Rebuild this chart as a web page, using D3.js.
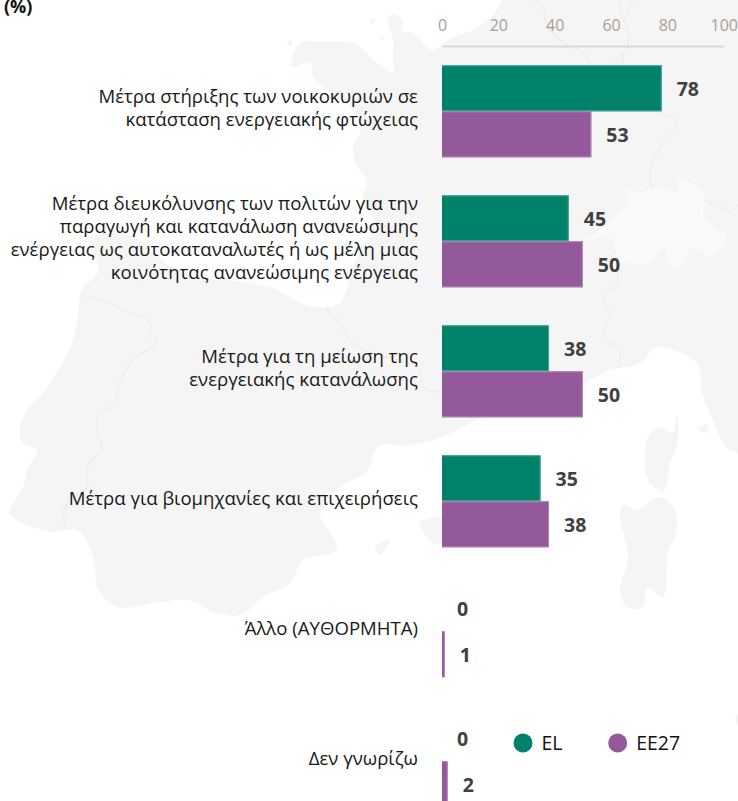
<!DOCTYPE html>
<html><head><meta charset="utf-8">
<script src="https://cdn.jsdelivr.net/npm/d3@7"></script>
<style>html,body{margin:0;padding:0;background:#fff;overflow:hidden}svg{display:block}
text{font-family:"Open Sans","Noto Sans",sans-serif}</style></head><body>
<svg id="c" width="738" height="801"></svg>
<script>
const categories = [
  ["Μέτρα στήριξης των νοικοκυριών σε","κατάσταση ενεργειακής φτώχειας"],
  ["Μέτρα διευκόλυνσης των πολιτών για την","παραγωγή και κατανάλωση ανανεώσιμης","ενέργειας ως αυτοκαταναλωτές ή ως μέλη μιας","κοινότητας ανανεώσιμης ενέργειας"],
  ["Μέτρα για τη μείωση της","ενεργειακής κατανάλωσης"],
  ["Μέτρα για βιομηχανίες και επιχειρήσεις"],
  ["Άλλο (ΑΥΘΟΡΜΗΤΑ)"],
  ["Δεν γνωρίζω"]
];
const seriesNames = ["EL","EE27"];
const valuesEL = [78,45,38,35,0,0];
const valuesEE27 = [53,50,50,38,1,2];
const tickValues = [0,20,40,60,80,100];
const colors = {EL:"#00826a",EE27:"#93599b"};
const strokes = {EL:"#4da897",EE27:"#b287b8"};

// decorative background map (page coordinates)
const landMain = [[502,0],[497,10],[473,30],[447,40],[433,50],[413,33],[402,30],[403,20],[390,15],[388,20],[393,40],[393,63],[394,72],[377,63],[353,43],[340,42],[323,42],[300,43],[295,50],[292,67],[310,63],[313,77],[335,95],[353,110],[360,132],[353,147],[358,167],[367,180],[363,200],[372,215],[353,267],[337,305],[313,307],[273,288],[227,280],[187,275],[165,262],[140,240],[110,233],[90,240],[93,250],[98,272],[83,288],[77,323],[72,343],[60,367],[43,393],[30,407],[20,427],[22,443],[37,450],[27,470],[23,487],[10,513],[33,527],[53,532],[77,530],[90,547],[95,567],[97,587],[113,605],[160,602],[187,600],[217,613],[240,615],[263,597],[293,580],[300,563],[337,547],[333,537],[320,513],[333,493],[370,467],[377,447],[410,445],[430,441],[453,432],[470,423],[520,400],[583,383],[610,370],[640,363],[657,347],[673,350],[697,363],[703,397],[713,420],[730,450],[738,453],[745,200],[738,0]];
const swiss = [[583,243],[597,238],[610,237],[615,250],[617,260],[630,263],[647,263],[663,247],[667,257],[677,272],[693,248],[713,257],[727,233],[717,230],[703,213],[707,200],[690,183],[678,180],[677,192],[657,188],[637,193],[623,190],[627,200],[603,227]];
const corsica = [[677,415],[672,433],[660,427],[647,440],[645,460],[648,480],[663,492],[670,463],[678,443]];
const sardinia = [[660,497],[675,510],[675,537],[668,550],[663,597],[647,587],[643,607],[628,607],[620,593],[628,557],[620,517],[623,505],[637,510]];
const elba = [[697,428],[707,425],[707,433]];
const mallorca = [[420,523],[443,518],[443,543],[433,543]];
const ibiza = [[375,547],[390,540],[380,555]];
const sicily = [[735,717],[738,715],[738,725]];
const islets = [[[287,43],[292,40],[291,46]],[[370,20],[375,18],[372,25]],[[380,35],[384,37],[382,41]]];
const borders = [
  [[83,297],[103,300],[123,310],[150,323],[150,337],[157,342],[133,360],[117,390],[116,403],[98,415],[97,433],[102,447],[87,467],[87,487],[65,507],[65,527]],
  [[325,308],[340,323],[350,340],[377,355],[407,362],[420,370],[423,387],[440,392]],
  [[615,250],[617,283],[602,298],[610,313],[603,337],[620,350],[618,368]],
  [[533,0],[543,7],[547,25],[570,47],[580,50],[590,65]],
  [[633,0],[625,20],[629,37],[623,53],[612,63]],
  [[618,0],[625,25]],
  [[623,53],[623,65]],
  [[657,112],[677,123],[660,147],[650,173],[652,188]],
  [[703,200],[717,205],[730,212],[738,205]]
];

const svg = d3.select("#c");
const closed = d3.line().curve(d3.curveCatmullRomClosed.alpha(0.5));
const open = d3.line().curve(d3.curveCatmullRom.alpha(0.5));
const mapG = svg.append("g");
mapG.append("path").attr("d", d3.line().curve(d3.curveCatmullRomClosed.alpha(1))(landMain)).attr("fill","#f5f5f5");
mapG.selectAll("path.isl").data([corsica,sardinia,elba,mallorca,ibiza,sicily,...islets]).join("path")
  .attr("class","isl").attr("d",closed).attr("fill","#f5f5f5");
mapG.append("path").attr("d",closed(swiss)).attr("fill","#fafafa");
mapG.selectAll("path.b").data(borders).join("path").attr("class","b").attr("d",open)
  .attr("fill","none").attr("stroke","#ececec").attr("stroke-width",1.2);

const x = d3.scaleLinear().domain([0,100]).range([442,723.7]);
const y0 = d3.scaleBand().domain(d3.range(categories.length)).range([46.3,826.3]).paddingInner(38/130).paddingOuter(19/130);
const y1 = d3.scaleBand().domain(seriesNames).range([0,y0.bandwidth()]);

// axis
const ax = svg.append("g").attr("transform","translate(0,46)")
  .call(d3.axisTop(x).tickValues(tickValues).tickSize(0).tickPadding(15));
ax.select(".domain").attr("stroke","#d9d9d9").attr("stroke-width",2);
ax.selectAll("text").attr("font-size",16).attr("fill","#ae9d92").style("font-family",'"Open Sans",sans-serif');

// bars
const rows = seriesNames.flatMap(s => (s==="EL"?valuesEL:valuesEE27).map((v,i)=>({s,v,i})));
svg.append("g").selectAll("rect").data(rows.filter(d=>d.v>0)).join("rect")
  .attr("x",x(0)).attr("y",d=>y0(d.i)+y1(d.s)).attr("width",d=>x(d.v)-x(0)).attr("height",y1.bandwidth())
  .attr("fill",d=>colors[d.s]);
svg.append("g").selectAll("path").data(rows.filter(d=>d.v>0)).join("path")
  .attr("d",d=>`M${x(0)},${y0(d.i)+y1(d.s)+.5}H${x(d.v)-.5}V${y0(d.i)+y1(d.s)+y1.bandwidth()-.5}H${x(0)}`)
  .attr("fill","none").attr("stroke",d=>strokes[d.s]).attr("stroke-width",1);

// value labels
svg.append("g").selectAll("text").data(rows).join("text")
  .attr("x",d=>x(d.v)+15).attr("y",d=>y0(d.i)+y1(d.s)+y1.bandwidth()/2+8)
  .attr("font-size",19.5).attr("font-weight",700).attr("fill","#404040").text(d=>d.v);

// category labels
const lh = 23;
categories.forEach((lines,i)=>{
  const cy = y0(i)+y0.bandwidth()/2 - 3;
  svg.append("g").selectAll("text").data(lines).join("text")
    .attr("x",418).attr("text-anchor","end")
    .attr("y",(d,j)=>cy+(j-(lines.length-1)/2)*lh+6.5)
    .attr("font-size",18.6).attr("fill","#1a1a1a").text(d=>d);
});

// title
svg.append("text").attr("x",4).attr("y",12.5).attr("font-size",18).attr("font-weight",700).attr("fill","#111").text("(%)");

// legend
const lx = d3.scaleOrdinal().domain(seriesNames).range([523,617.7]);
const lg = svg.append("g").selectAll("g").data(seriesNames).join("g").attr("transform",d=>`translate(${lx(d)},743)`);
lg.append("circle").attr("r",9.5).attr("fill",d=>colors[d]);
lg.append("text").attr("x",18.5).attr("y",7).attr("font-size",19.5).attr("fill","#111").text(d=>d);
</script></body></html>
